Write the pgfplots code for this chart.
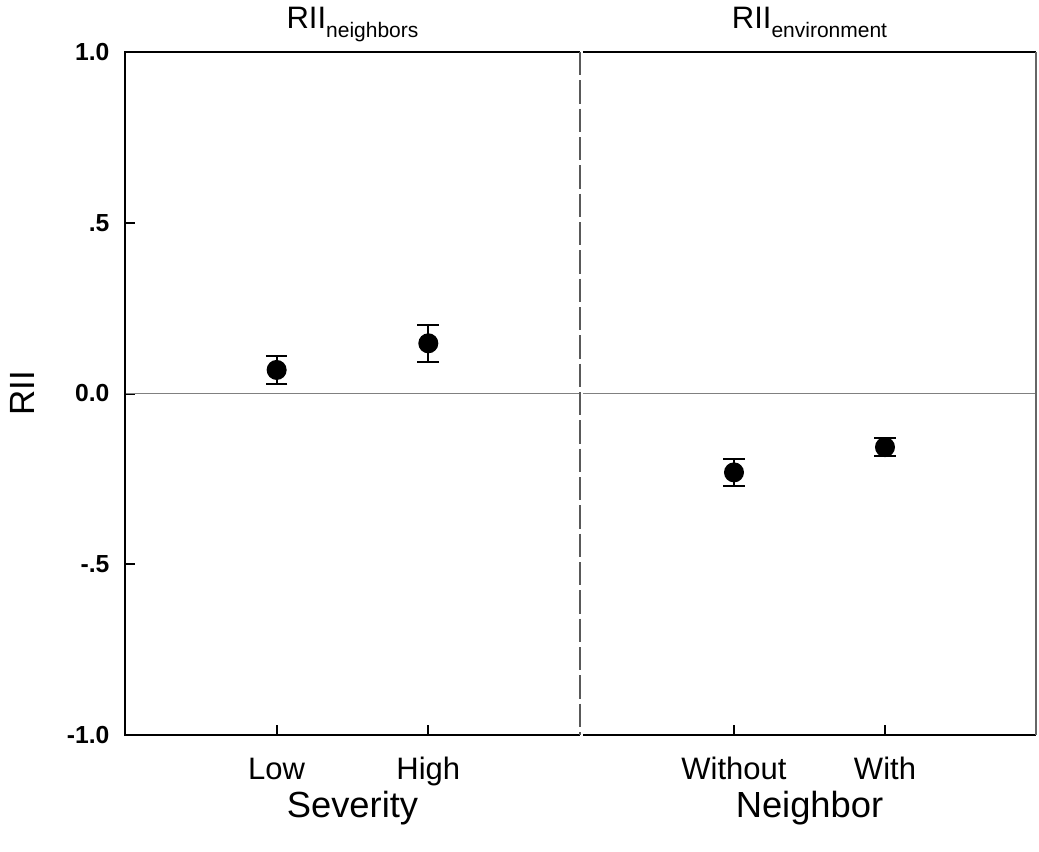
\documentclass[border=0pt]{standalone}
\usepackage{pgfplots}
\pgfplotsset{compat=1.18}
\usepackage{fontspec}
\setmainfont{Liberation Sans}

\pgfplotsset{
  panel/.style={
    scale only axis, height=204.9pt,
    xmin=0, xmax=3, ymin=-1, ymax=1,
    clip=false,
    axis line style={draw=none},
    tick align=inside, major tick length=3pt,
    tick style={black, line width=0.6pt},
    xtick={1,2}, xtick pos=left,
    xticklabel style={anchor=base, yshift=-13.2pt, font=\fontsize{9.3}{11}\selectfont},
    yticklabel style={anchor=east, inner sep=0pt, xshift=-4.5pt, font=\bfseries\fontsize{7.4}{9}\selectfont},
  },
  pts/.style={black, only marks, mark=*, mark size=2.8pt,
    mark options={fill=black, draw=black},
    error bars/.cd, y dir=both, y explicit,
    error bar style={line width=0.6pt, black},
    error mark options={rotate=90, mark size=3.25pt, line width=0.6pt, black}},
}

\begin{document}
\begin{tikzpicture}
\useasboundingbox (-37.5pt,-34.8pt) rectangle (274.2pt,220.5pt);

% left panel
\begin{axis}[panel, width=136.5pt, at={(0pt,0pt)}, anchor=south west,
  ytick={-1,-0.5,0,0.5,1}, ytick pos=left,
  yticklabels={-1.0,-.5,0.0,.5,1.0},
  xticklabels={Low,High}]
  \draw[gray, line width=0.45pt] (axis cs:0,0) -- (axis cs:3,0);
  \draw[line width=0.6pt] (rel axis cs:1,1) -- (rel axis cs:0,1) -- (rel axis cs:0,0) -- (rel axis cs:1,0);
  \draw[gray!70!black, line width=0.5pt, dash pattern=on 7pt off 1.5pt] (rel axis cs:1,1) -- (rel axis cs:1,0);
  \addplot[pts] coordinates {
    (1,0.069) +- (0,0.041)
    (2,0.147) +- (0,0.054)
  };
  \node[anchor=base, yshift=7.2pt, font=\fontsize{9.3}{11}\selectfont] at (rel axis cs:0.5,1)
    {RII\raisebox{-2.7pt}{\fontsize{6.3}{7}\selectfont neighbors}};
  \node[anchor=base, yshift=-24.6pt, font=\fontsize{10.9}{13}\selectfont] at (rel axis cs:0.5,0) {Severity};
  \node[rotate=90, anchor=base, font=\fontsize{10.5}{12}\selectfont] at ([xshift=-27pt]rel axis cs:0,0.5) {RII};
\end{axis}

% right panel
\begin{axis}[panel, width=135.9pt, at={(137.4pt,0pt)}, anchor=south west,
  ytick=\empty,
  xticklabels={Without,With}]
  \draw[gray, line width=0.45pt] (axis cs:0,0) -- (axis cs:3,0);
  \draw[line width=0.6pt] (rel axis cs:0,1) -- (rel axis cs:1,1);
  \draw[line width=0.6pt] (rel axis cs:0,0) -- (rel axis cs:1,0);
  \draw[gray!80!black, line width=0.45pt] (rel axis cs:1,1) -- (rel axis cs:1,0);
  \addplot[pts] coordinates {
    (1,-0.231) +- (0,0.040)
    (2,-0.157) +- (0,0.027)
  };
  \node[anchor=base, yshift=7.2pt, font=\fontsize{9.3}{11}\selectfont] at (rel axis cs:0.5,1)
    {RII\raisebox{-2.7pt}{\fontsize{6.3}{7}\selectfont environment}};
  \node[anchor=base, yshift=-24.6pt, font=\fontsize{10.9}{13}\selectfont] at (rel axis cs:0.5,0) {Neighbor};
\end{axis}
\end{tikzpicture}
\end{document}
